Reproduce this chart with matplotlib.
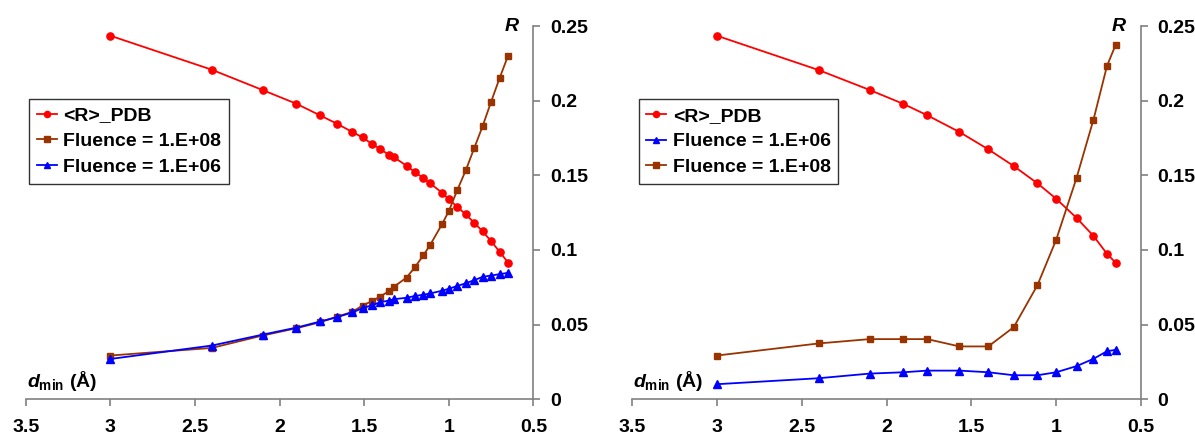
import numpy as np
import matplotlib
matplotlib.use("Agg")
import matplotlib.pyplot as plt

plt.rcParams['font.family'] = ['Liberation Sans', 'DejaVu Sans']
plt.rcParams['font.weight'] = 'bold'
plt.rcParams['mathtext.fontset'] = 'custom'
plt.rcParams['mathtext.rm'] = 'Liberation Sans:bold'
plt.rcParams['mathtext.it'] = 'Liberation Sans:bold:italic'
plt.rcParams['mathtext.bf'] = 'Liberation Sans:bold'

# resolution shells, fine binning (left) and coarse binning (right)
d_fine = [3.0, 2.4, 2.1, 1.9, 1.76, 1.66, 1.57, 1.51, 1.455, 1.405, 1.355, 1.325,
          1.25, 1.2, 1.15, 1.11, 1.04, 1.0, 0.95, 0.9, 0.85, 0.8, 0.75, 0.7, 0.65]
r_pdb_fine = [0.2435, 0.2207, 0.2071, 0.1979, 0.1901, 0.1845, 0.1790, 0.1754, 0.1711,
              0.1676, 0.1638, 0.1622, 0.1564, 0.1521, 0.1481, 0.1446, 0.1383, 0.1340,
              0.1289, 0.1238, 0.1182, 0.1124, 0.1059, 0.0988, 0.0916]
r_e8_fine = [0.0293, 0.0344, 0.0427, 0.0476, 0.0516, 0.0554, 0.0585, 0.0628, 0.0657,
             0.0688, 0.0724, 0.0753, 0.0815, 0.0885, 0.0965, 0.1034, 0.1173, 0.1260,
             0.1401, 0.1533, 0.1682, 0.1830, 0.1993, 0.2151, 0.2301]
r_e6_fine = [0.0270, 0.0360, 0.0433, 0.0480, 0.0521, 0.0550, 0.0582, 0.0610, 0.0630,
             0.0650, 0.0661, 0.0670, 0.0680, 0.0692, 0.0700, 0.0709, 0.0727, 0.0740,
             0.0759, 0.0777, 0.0798, 0.0820, 0.0829, 0.0838, 0.0847]

d_coarse = [3.0, 2.4, 2.1, 1.9, 1.76, 1.57, 1.4, 1.25, 1.11, 1.0, 0.88, 0.78, 0.7, 0.65]
r_pdb_coarse = [0.2435, 0.2205, 0.2072, 0.1978, 0.1902, 0.1790, 0.1674, 0.1562,
                0.1446, 0.1343, 0.1215, 0.1094, 0.0974, 0.0915]
r_e8_coarse = [0.0293, 0.0374, 0.0403, 0.0403, 0.0403, 0.0354, 0.0354, 0.0483,
               0.0765, 0.1068, 0.1482, 0.1873, 0.2234, 0.2372]
r_e6_coarse = [0.0101, 0.0141, 0.0172, 0.0181, 0.0192, 0.0192, 0.0181, 0.0161,
               0.0161, 0.0181, 0.0222, 0.0271, 0.0322, 0.0331]

x_ticks = [3.5, 3, 2.5, 2, 1.5, 1, 0.5]
x_labels = ['3.5', '3', '2.5', '2', '1.5', '1', '0.5']
y_ticks = [0, 0.05, 0.1, 0.15, 0.2, 0.25]
y_labels = ['0', '0.05', '0.1', '0.15', '0.2', '0.25']

RED = '#FF0000'
BROWN = '#993300'
BLUE = '#0000FF'
GREY = '#808080'
FS = 14

fig = plt.figure(figsize=(11.95, 4.37), dpi=100)
ax1 = fig.add_axes([0.0215, 0.0863, 0.4249, 0.8542])
ax2 = fig.add_axes([0.5289, 0.0863, 0.4259, 0.8542])


def style_axis(ax):
    ax.set_xlim(3.5, 0.5)
    ax.set_ylim(0, 0.25)
    ax.set_xticks(x_ticks)
    ax.set_xticklabels(x_labels, fontweight='bold', fontsize=FS)
    ax.set_yticks(y_ticks)
    ax.set_yticklabels(y_labels, fontweight='bold', fontsize=FS)
    ax.yaxis.tick_right()
    for side in ['left', 'top']:
        ax.spines[side].set_visible(False)
    for side in ['right', 'bottom']:
        ax.spines[side].set_color(GREY)
        ax.spines[side].set_linewidth(1.2)
    ax.tick_params(axis='both', colors=GREY, length=5, width=1.2, labelcolor='black')
    ax.tick_params(axis='x', pad=9)
    ax.tick_params(axis='y', pad=7)
    ax.text(0.957, 1.0, 'R', transform=ax.transAxes, ha='center', va='center',
            fontsize=FS, fontweight='bold', fontstyle='italic')
    ax.text(0.002, 0.018, r'$d_{\mathrm{min}}$ (Å)', transform=ax.transAxes,
            ha='left', va='bottom', fontsize=FS, fontweight='bold')


line_kw = dict(linewidth=1.3, clip_on=False)

ax1.plot(d_fine, r_pdb_fine, color=RED, marker='o', markersize=5.2, label='<R>_PDB', **line_kw)
ax1.plot(d_fine, r_e8_fine, color=BROWN, marker='s', markersize=4.5, label='Fluence = 1.E+08', **line_kw)
ax1.plot(d_fine, r_e6_fine, color=BLUE, marker='^', markersize=5.2, label='Fluence = 1.E+06', **line_kw)

ax2.plot(d_coarse, r_pdb_coarse, color=RED, marker='o', markersize=5.2, label='<R>_PDB', **line_kw)
ax2.plot(d_coarse, r_e6_coarse, color=BLUE, marker='^', markersize=5.2, label='Fluence = 1.E+06', **line_kw)
ax2.plot(d_coarse, r_e8_coarse, color=BROWN, marker='s', markersize=4.5, label='Fluence = 1.E+08', **line_kw)

for ax, anchor in [(ax1, (29.3 / 1195, 1 - 99 / 437)), (ax2, (638.6 / 1195, 1 - 99.3 / 437))]:
    style_axis(ax)
    leg = ax.legend(loc='upper left', bbox_to_anchor=anchor, bbox_transform=fig.transFigure,
                    fancybox=False, frameon=True, edgecolor='black',
                    handlelength=1.0, handletextpad=0.35, labelspacing=0.42,
                    borderpad=0.4, borderaxespad=0, markerscale=0.85,
                    prop={'weight': 'bold', 'size': FS})
    leg.get_frame().set_linewidth(1.0)

fig.savefig('out.png', dpi=100)
